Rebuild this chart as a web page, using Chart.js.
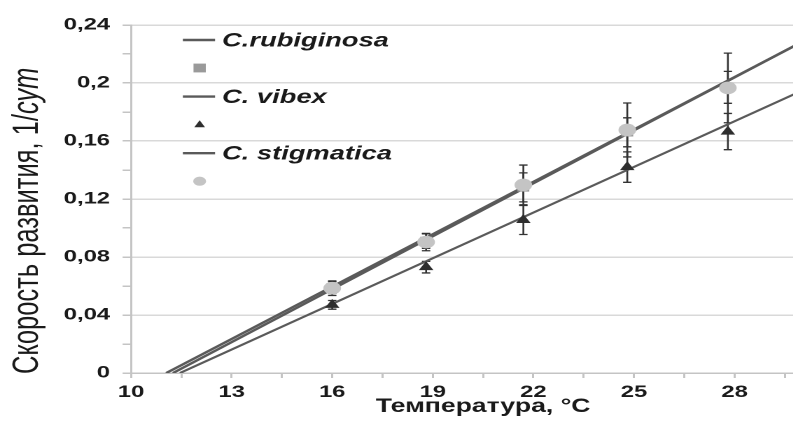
<!DOCTYPE html>
<html lang="ru">
<head>
<meta charset="utf-8">
<script src="https://cdn.jsdelivr.net/npm/chart.js@4/dist/chart.umd.min.js"></script>
<style>
  html, body { margin: 0; padding: 0; background: #fff; overflow: hidden; width: 793px; height: 439px; }
  #frame { position: absolute; left: 0; top: 0; width: 610px; height: 439px; transform: scaleX(1.4); transform-origin: 0 0; }
</style>
</head>
<body>
<div id="frame"><canvas id="chart" width="610" height="439"></canvas></div>
<script>
// Temperature of rearing, °C
const temperatures = [16, 18.8, 21.7, 24.8, 27.8];

// Development rate, 1/day, with error half-widths
const rubiginosaRate = [0.059, 0.091, 0.128, 0.166, 0.197];
const rubiginosaErr  = [0.004, 0.005, 0.010, 0.010, 0.011];
const vibexRate      = [0.047, 0.073, 0.1055, 0.142, 0.1665];
const vibexErr       = [0.003, 0.004, 0.010, 0.0105, 0.0125];
const stigmaticaRate = [0.0585, 0.0903, 0.1297, 0.1676, 0.1966];
const stigmaticaErr  = [0.005, 0.006, 0.0137, 0.0186, 0.024];

// Linear trend lines: end points (temperature, rate)
const rubiginosaTrendX = [11.05, 31];
const rubiginosaTrendY = [0, 0.2402];
const vibexTrendX      = [11.46, 31];
const vibexTrendY      = [0, 0.2051];
const stigmaticaTrendX = [11.25, 31];
const stigmaticaTrendY = [0, 0.2404];

// Axis tick labels
const xTickLabels = ['10', '13', '16', '19', '22', '25', '28', '31'];
const yTickLabels = ['0', '0,04', '0,08', '0,12', '0,16', '0,2', '0,24'];

const speciesNames = ['C.rubiginosa', 'C. vibex', 'C. stigmatica'];

// Y axis title: plain part and the italic unit
const yTitleText = 'Скорость развития, 1/';
const yTitleUnit = 'сут';

const FONT = "'Liberation Sans', Arial, sans-serif";
Chart.defaults.font.family = FONT;
Chart.defaults.color = '#1a1a1a';

const pts = (xs, ys) => xs.map((x, i) => ({ x: x, y: ys[i] }));

const trendColor = '#5a5a5a';
const marker = {
  rub:  { style: 'rect',     color: '#9a9a9a', radius: 6 },
  vib:  { style: 'triangle', color: '#2e2e2e', radius: 6 },
  stig: { style: 'circle',   color: '#c4c4c4', radius: 6.3 }
};

const datasets = [
  { type: 'line', label: speciesNames[0], data: pts(rubiginosaTrendX, rubiginosaTrendY),
    borderColor: trendColor, borderWidth: 2.3, pointRadius: 0, order: 10 },
  { type: 'line', label: speciesNames[1], data: pts(vibexTrendX, vibexTrendY),
    borderColor: trendColor, borderWidth: 2, pointRadius: 0, order: 10 },
  { type: 'line', label: speciesNames[2], data: pts(stigmaticaTrendX, stigmaticaTrendY),
    borderColor: trendColor, borderWidth: 2.3, pointRadius: 0, order: 10 },
  { type: 'scatter', label: '', data: pts(temperatures, rubiginosaRate), err: rubiginosaErr,
    pointStyle: marker.rub.style, pointRadius: marker.rub.radius, backgroundColor: marker.rub.color,
    borderColor: marker.rub.color, borderWidth: 0, order: 3 },
  { type: 'scatter', label: '', data: pts(temperatures, vibexRate), err: vibexErr,
    pointStyle: marker.vib.style, pointRadius: marker.vib.radius, backgroundColor: marker.vib.color,
    borderColor: marker.vib.color, borderWidth: 0, order: 2 },
  { type: 'scatter', label: '', data: pts(temperatures, stigmaticaRate), err: stigmaticaErr,
    pointStyle: marker.stig.style, pointRadius: marker.stig.radius, backgroundColor: marker.stig.color,
    borderColor: marker.stig.color, borderWidth: 0, order: 1 }
];

// Vertical error bars with caps, drawn beneath the markers
const errorBars = {
  id: 'errorBars',
  beforeDatasetsDraw(chart) {
    const { ctx, scales: { x, y } } = chart;
    ctx.save();
    ctx.strokeStyle = '#333';
    ctx.lineWidth = 1.3;
    chart.data.datasets.forEach(ds => {
      if (!ds.err) return;
      ds.data.forEach((p, i) => {
        const px = x.getPixelForValue(p.x);
        const top = y.getPixelForValue(p.y + ds.err[i]);
        const bot = y.getPixelForValue(p.y - ds.err[i]);
        ctx.beginPath();
        ctx.moveTo(px, top); ctx.lineTo(px, bot);
        ctx.moveTo(px - 3, top); ctx.lineTo(px + 3, top);
        ctx.moveTo(px - 3, bot); ctx.lineTo(px + 3, bot);
        ctx.stroke();
      });
    });
    ctx.restore();
  }
};

function drawMarker(ctx, m, cx, cy, r) {
  ctx.fillStyle = m.color;
  ctx.beginPath();
  if (m.style === 'rect') {
    ctx.rect(cx - r, cy - r, 2 * r, 2 * r);
  } else if (m.style === 'triangle') {
    ctx.moveTo(cx, cy - r);
    ctx.lineTo(cx + r * 0.87, cy + r * 0.6);
    ctx.lineTo(cx - r * 0.87, cy + r * 0.6);
    ctx.closePath();
  } else {
    ctx.arc(cx, cy, r, 0, Math.PI * 2);
  }
  ctx.fill();
}

// Legend inside the plot: trend line + name, then the marker on its own row
const innerLegend = {
  id: 'innerLegend',
  afterDraw(chart) {
    const { ctx, chartArea } = chart;
    const x0 = chartArea.left + 37, x1 = x0 + 23, tx = x1 + 5;
    const rowTop = chartArea.top + 15, step = 56.6;
    const marks = [marker.rub, marker.vib, marker.stig];
    const sizes = [4.4, 4.4, 4.6];
    ctx.save();
    for (let i = 0; i < 3; i++) {
      const yy = rowTop + i * step;
      const ds = chart.data.datasets[i];
      ctx.strokeStyle = ds.borderColor;
      ctx.lineWidth = 2.4;
      ctx.beginPath(); ctx.moveTo(x0, yy); ctx.lineTo(x1, yy); ctx.stroke();
      ctx.fillStyle = '#1a1a1a';
      ctx.font = 'italic bold 19.5px ' + FONT;
      ctx.textBaseline = 'middle';
      ctx.textAlign = 'left';
      ctx.fillText(ds.label, tx, yy + 1);
      drawMarker(ctx, marks[i], (x0 + x1) / 2 + 0.5, yy + 28, sizes[i]);
    }
    ctx.restore();
  }
};

// Rotated Y axis title, with the unit set in italics
const yAxisTitle = {
  id: 'yAxisTitle',
  afterDraw(chart) {
    const { ctx, chartArea } = chart;
    ctx.save();
    ctx.translate(20, chartArea.bottom + 1);
    ctx.rotate(-Math.PI / 2);
    ctx.fillStyle = '#1a1a1a';
    ctx.textBaseline = 'middle';
    ctx.textAlign = 'left';
    ctx.font = '25.5px ' + FONT;
    ctx.fillText(yTitleText, 0, 0);
    const w = ctx.measureText(yTitleText).width;
    ctx.font = 'italic 25.5px ' + FONT;
    ctx.fillText(yTitleUnit, w, 0);
    ctx.restore();
  }
};

new Chart(document.getElementById('chart'), {
  data: { datasets },
  options: {
    responsive: false,
    devicePixelRatio: 2,
    animation: false,
    layout: { padding: { top: 25, right: 12.8, bottom: 0, left: 0 } },
    plugins: { legend: { display: false }, tooltip: { enabled: false } },
    scales: {
      x: {
        type: 'linear', min: 10, max: 31,
        afterFit(scale) { scale.height = 66; },
        ticks: {
          stepSize: 1.5, autoSkip: false, maxRotation: 0, padding: 4,
          font: { size: 17, weight: 'bold' }, color: '#1a1a1a',
          callback: (v, i) => (i % 2 === 0 ? xTickLabels[i / 2] : '')
        },
        grid: { drawOnChartArea: false, drawTicks: true, tickLength: 5, tickColor: '#c4c4c4', lineWidth: 1.5 },
        border: { color: '#c4c4c4', width: 1.5 },
        title: {
          display: true, text: 'Температура, °С',
          font: { size: 19, weight: 'bold' }, color: '#1a1a1a',
          padding: { top: 0, bottom: 21 }
        }
      },
      y: {
        type: 'linear', min: 0, max: 0.24,
        afterFit(scale) { scale.width = 93.6; },
        ticks: {
          stepSize: 0.02, autoSkip: false, padding: 9,
          font: { size: 17, weight: 'bold' }, color: '#1a1a1a',
          callback: (v, i) => (i % 2 === 0 ? yTickLabels[i / 2] : '')
        },
        grid: {
          drawTicks: true, tickLength: 6, tickColor: '#c4c4c4', lineWidth: 1.5,
          color: ctx => (ctx.index % 2 === 0 ? '#d9d9d9' : 'rgba(0,0,0,0)')
        },
        border: { color: '#c4c4c4', width: 1.5 }
      }
    }
  },
  plugins: [errorBars, innerLegend, yAxisTitle]
});
</script>
</body>
</html>
